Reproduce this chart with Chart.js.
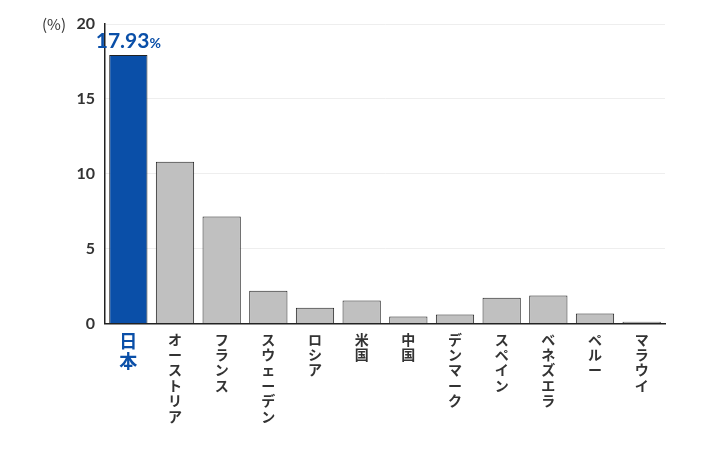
<!DOCTYPE html>
<html><head><meta charset="utf-8">
<script src="https://cdn.jsdelivr.net/npm/chart.js@4"></script>
<style>body{margin:0;background:#fff}#wrap{width:707px;height:456px}</style>
</head><body><div id="wrap"><canvas id="c"></canvas></div>
<script>
const categories = ["日本","オーストリア","フランス","スウェーデン","ロシア","米国","中国","デンマーク","スペイン","ベネズエラ","ペルー","マラウイ"];
const values = [17.93,10.8,7.15,2.2,1.05,1.55,0.47,0.6,1.73,1.87,0.67,0.13];
const yTicks = [0,5,10,15,20];
const FONT = "'Noto Sans CJK JP', Lato, sans-serif";

const decor = {
  id: "decor",
  afterDraw(chart) {
    const {ctx, scales:{x, y}} = chart;
    ctx.save();
    ctx.fillStyle = "#333";
    ctx.font = "15px " + FONT;
    ctx.textAlign = "right"; ctx.textBaseline = "middle";
    ctx.fillText("(%)", 66, y.getPixelForValue(20));
    const px = x.getPixelForValue(0), py = y.getPixelForValue(values[0]);
    ctx.fillStyle = "#0a4fa8";
    ctx.textAlign = "left"; ctx.textBaseline = "alphabetic";
    const txt = values[0].toFixed(2);
    ctx.font = "bold 21px Lato, sans-serif";
    const w = ctx.measureText(txt).width;
    ctx.font = "bold 14px Lato, sans-serif";
    const w2 = ctx.measureText("%").width;
    const sx = px - (w + w2) / 2;
    ctx.font = "bold 21px Lato, sans-serif";
    ctx.fillText(txt, sx, py - 7);
    ctx.font = "bold 14px Lato, sans-serif";
    ctx.fillText("%", sx + w, py - 7);
    ctx.restore();
  }
};

new Chart(document.getElementById("c"), {
  type: "bar",
  data: {
    labels: categories.map(s => s.split("")),
    datasets: [{
      data: values,
      backgroundColor: values.map((v, i) => i === 0 ? "#0a4fa8" : "#c0c0c0"),
      borderColor: "#222",
      borderWidth: 1,
      categoryPercentage: 0.82,
      barPercentage: 1
    }]
  },
  options: {
    responsive: true, maintainAspectRatio: false, animation: false,
    layout: { padding: { left: 20, right: 42, top: 24, bottom: 24 } },
    plugins: { legend: { display: false }, tooltip: { enabled: false } },
    scales: {
      x: {
        grid: { display: false, drawTicks: false },
        border: { color: "#222", width: 1.5 },
        ticks: {
          maxRotation: 0, autoSkip: false, padding: 8,
          color: ctx => ctx.index === 0 ? "#0a4fa8" : "#333",
          font: ctx => ctx.index === 0 ? { family: FONT, size: 18, weight: "bold", lineHeight: 1.1 } : { family: FONT, size: 14, weight: "bold", lineHeight: 1.1 }
        }
      },
      y: {
        min: 0, max: 20,
        afterBuildTicks: s => { s.ticks = yTicks.map(v => ({ value: v })); },
        afterFit: s => { s.width = 85; },
        grid: { color: "#eeeeee", drawTicks: false },
        border: { color: "#222", width: 1.5 },
        ticks: { padding: 10, color: "#333", font: { family: "Lato, sans-serif", size: 16, weight: "bold" } }
      }
    }
  },
  plugins: [decor]
});
</script></body></html>
